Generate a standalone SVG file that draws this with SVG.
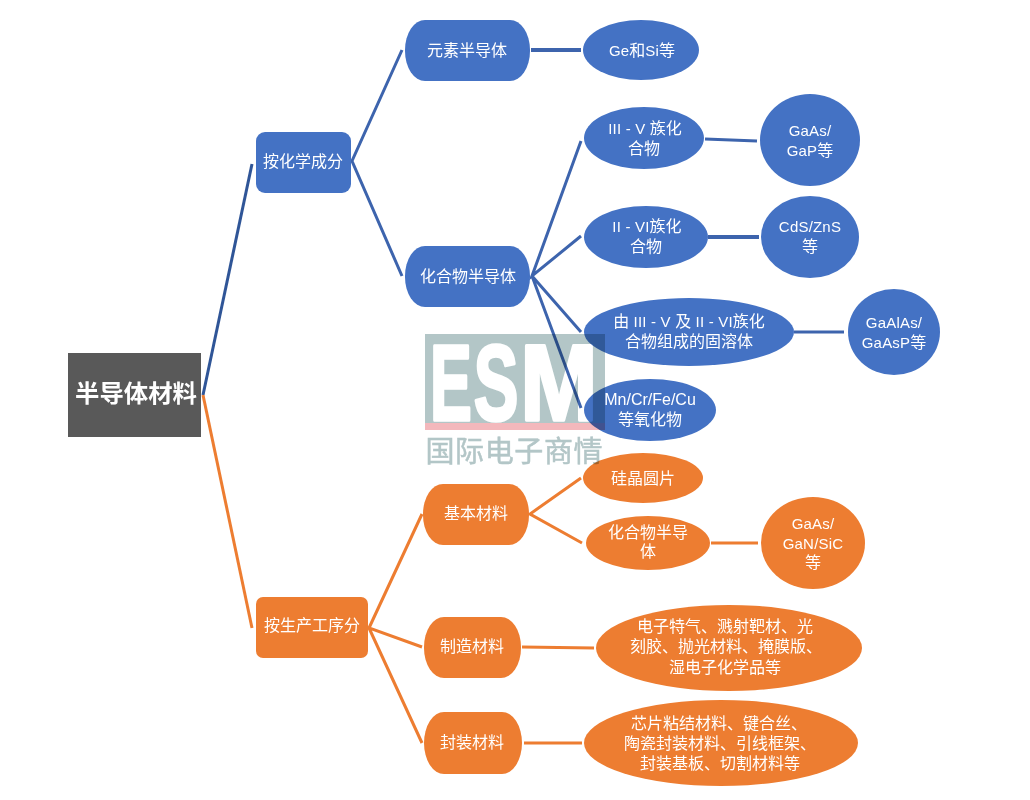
<svg xmlns="http://www.w3.org/2000/svg" width="1030" height="800" viewBox="0 0 1030 800">
<style>
text{font-family:"Liberation Sans","Noto Sans CJK SC",sans-serif;font-size:16px;fill:#fff;text-anchor:middle}
.l{font-size:15px;letter-spacing:.2px}
.b{fill:#4472c4}.o{fill:#ed7d31}
.lb{stroke:#3d64ad;stroke-width:3;fill:none}
.lo{stroke:#ed7d31;stroke-width:3;fill:none}
.em{stroke:#fff;stroke-width:3.5px;stroke-linejoin:round;font-size:108px;font-weight:bold}
</style>
<rect width="1030" height="800" fill="#fff"/>
<g id="connectors">
<path class="lb" d="M203 395L252 164" style="stroke:#2f5597"/>
<path class="lo" d="M203 395L252 628"/>
<path class="lb" d="M402 50L352 161L402 276"/>
<path class="lb" d="M531 50H581" style="stroke-width:4"/>
<path class="lb" d="M581 141L532 276L581 236M532 276L581 332M532 276L581 408"/>
<path class="lb" d="M705 139L757 141"/>
<path class="lb" d="M708 237H759" style="stroke-width:4"/>
<path class="lb" d="M794 332H844"/>
<path class="lo" d="M422 514L369 628L422 647M369 628L422 743"/>
<path class="lo" d="M581 478L530 514L582 543"/>
<path class="lo" d="M711 543H758"/>
<path class="lo" d="M522 647L594 648"/>
<path class="lo" d="M524 743L582 743"/>
</g>
<g id="root"><rect x="68" y="353" width="133" height="84" fill="#595959"/><text x="136" y="402" style="font-size:24.4px;font-weight:bold">半导体材料</text></g>
<g id="n-chem"><rect class="b" x="256" y="132" width="95" height="61" rx="9"/><text x="303" y="167">按化学成分</text></g>
<g id="n-proc"><rect class="o" x="256" y="597" width="112" height="61" rx="7"/><text x="312" y="631">按生产工序分</text></g>
<g id="n-elem"><rect class="b" x="405" y="20" width="125" height="61" rx="20" ry="30"/><text x="467" y="56">元素半导体</text></g>
<g id="n-ge"><ellipse class="b" cx="641" cy="50" rx="58" ry="30"/><text x="642" y="56"><tspan class="l">Ge</tspan>和<tspan class="l">Si</tspan>等</text></g>
<g id="n-comp"><rect class="b" x="405" y="246" width="125" height="61" rx="20" ry="30"/><text x="468" y="282">化合物半导体</text></g>
<g id="n-35"><ellipse class="b" cx="644" cy="138" rx="60" ry="31"/><text x="645" y="134"><tspan class="l">III - V </tspan>族化</text><text x="644" y="154">合物</text></g>
<g id="n-gaas"><ellipse class="b" cx="810" cy="140" rx="50" ry="46"/><text class="l" x="810" y="136">GaAs/</text><text x="810" y="156"><tspan class="l">GaP</tspan>等</text></g>
<g id="n-26"><ellipse class="b" cx="646" cy="237" rx="62" ry="31"/><text x="647" y="232"><tspan class="l">II - VI</tspan>族化</text><text x="646" y="252">合物</text></g>
<g id="n-cds"><ellipse class="b" cx="810" cy="237" rx="49" ry="41"/><text class="l" x="810" y="232">CdS/ZnS</text><text x="810" y="252">等</text></g>
<g id="n-solid"><ellipse class="b" cx="689" cy="332" rx="105" ry="34"/><text x="689" y="327">由<tspan class="l"> III - V </tspan>及<tspan class="l"> II - VI</tspan>族化</text><text x="689" y="347">合物组成的固溶体</text></g>
<g id="n-gaal"><ellipse class="b" cx="894" cy="332" rx="46" ry="43"/><text class="l" x="894" y="328">GaAlAs/</text><text x="894" y="348"><tspan class="l">GaAsP</tspan>等</text></g>
<g id="n-mn"><ellipse class="b" cx="650" cy="410" rx="66" ry="31"/><text x="650" y="405">Mn/Cr/Fe/Cu</text><text x="650" y="425">等氧化物</text></g>
<g id="n-base"><rect class="o" x="423" y="484" width="106" height="61" rx="20" ry="30"/><text x="476" y="519">基本材料</text></g>
<g id="n-si"><ellipse class="o" cx="643" cy="478" rx="60" ry="25"/><text x="643" y="484">硅晶圆片</text></g>
<g id="n-comp2"><ellipse class="o" cx="648" cy="543" rx="62" ry="27"/><text x="648" y="538">化合物半导</text><text x="648" y="557">体</text></g>
<g id="n-gan"><ellipse class="o" cx="813" cy="543" rx="52" ry="46"/><text class="l" x="813" y="529">GaAs/</text><text class="l" x="813" y="549">GaN/SiC</text><text x="813" y="568">等</text></g>
<g id="n-make"><rect class="o" x="424" y="617" width="97" height="61" rx="20" ry="30"/><text x="472" y="652">制造材料</text></g>
<g id="n-gas"><ellipse class="o" cx="729" cy="648" rx="133" ry="43"/><text x="725" y="632">电子特气、溅射靶材、光</text><text x="726" y="652">刻胶、抛光材料、掩膜版、</text><text x="725" y="673">湿电子化学品等</text></g>
<g id="n-pack"><rect class="o" x="424" y="712" width="98" height="62" rx="20" ry="31"/><text x="472" y="748">封装材料</text></g>
<g id="n-chip"><ellipse class="o" cx="721" cy="743" rx="137" ry="43"/><text x="719" y="729">芯片粘结材料、键合丝、</text><text x="720" y="749">陶瓷封装材料、引线框架、</text><text x="720" y="769">封装基板、切割材料等</text></g>
<g id="watermark" style="mix-blend-mode:multiply">
<rect x="425" y="334" width="180" height="96" fill="#b3c6c7"/>
<rect x="425" y="423" width="180" height="7" fill="#f3b8bc"/>
<text class="em" transform="translate(451 420) scale(.58 1)">E</text>
<text class="em" transform="translate(496 420) scale(.62 1)">S</text>
<text class="em" transform="translate(559 420) scale(.86 1)">M</text>
<text x="514" y="462" textLength="177" style="font-size:29px;fill:#b3c6c7;stroke:#b3c6c7;stroke-width:.5px">国际电子商情</text>
</g>
</svg>
